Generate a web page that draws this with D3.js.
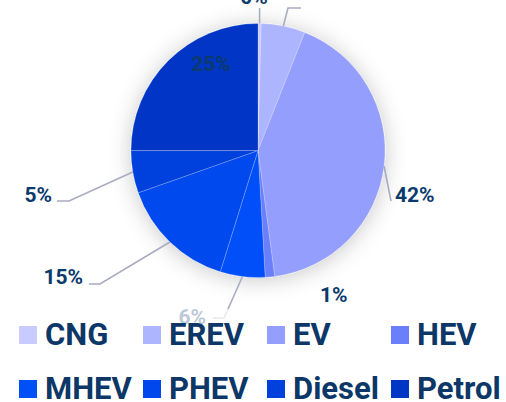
<!DOCTYPE html>
<html>
<head>
<meta charset="utf-8">
<script src="https://cdn.jsdelivr.net/npm/d3@7"></script>
<style>
  html, body { margin: 0; padding: 0; background: #fff; }
  svg { display: block; font-family: Roboto, "Noto Sans", sans-serif; }
</style>
</head>
<body>
<div class="visualGraph"></div>
<script>
// chart data
const categories = ["CNG", "EREV", "EV", "HEV", "MHEV", "PHEV", "Diesel", "Petrol"];
const shares = [0.4, 5.6, 41.9, 1.2, 5.7, 14.8, 5.4, 25.0];
const shareLabels = ["0%", "6%", "42%", "1%", "6%", "15%", "5%", "25%"];
const colors = ["#c7cbfe", "#adb5fe", "#949efd", "#6b7ffc", "#0050f8", "#0048ee", "#0040dc", "#0036c6"];

// label layout: leader elbow / end and text position (null = not shown)
const labelLayout = [
    { line: [[259.6, 8]], text: [254, 4], anchor: "middle" },
    { line: [[288, 8], [301, 8]], text: null },
    { line: [[391, 201]], text: [395, 202], anchor: "start" },
    { line: null, text: [320, 302], anchor: "start" },
    { line: [[224, 318], [213, 318]], text: [206, 324], anchor: "end" },
    { line: [[100, 284], [89, 284]], text: [83, 284], anchor: "end" },
    { line: [[69, 201], [57, 201]], text: [52, 202], anchor: "end" },
    { line: null, text: [211, 71], anchor: "middle" }
];

const width = 506;
const height = 402;
const cx = 258, cy = 150.5, radius = 127;

const svg = d3.select(".visualGraph")
    .append("svg")
    .attr("width", width)
    .attr("height", height)
    .attr("viewBox", [0, 0, width, height]);

// soft shadow around the pie
const filter = svg.append("defs").append("filter")
    .attr("id", "pieShadow")
    .attr("x", "-40%").attr("y", "-40%")
    .attr("width", "180%").attr("height", "180%");
filter.append("feDropShadow")
    .attr("dx", 0).attr("dy", 2)
    .attr("stdDeviation", 11)
    .attr("flood-color", "#000")
    .attr("flood-opacity", 0.22);

const pie = d3.pie().sort(null).value(d => d);
const arcs = pie(shares);
const arc = d3.arc().innerRadius(0).outerRadius(radius);
const edgeArc = d3.arc().innerRadius(radius).outerRadius(radius);

const g = svg.append("g").attr("transform", `translate(${cx},${cy})`);

g.append("g")
    .attr("filter", "url(#pieShadow)")
    .selectAll("path")
    .data(arcs)
    .join("path")
    .attr("d", arc)
    .attr("fill", (d, i) => colors[i])
    .attr("stroke", "rgba(255,255,255,0.35)")
    .attr("stroke-width", 0.6);

// leader lines
const lineGen = d3.line();
svg.append("g")
    .selectAll("path")
    .data(arcs.filter((d, i) => labelLayout[i].line))
    .join("path")
    .attr("d", d => {
        const [ex, ey] = edgeArc.centroid(d);
        return lineGen([[cx + ex, cy + ey], ...labelLayout[d.index].line]);
    })
    .attr("fill", "none")
    .attr("stroke", "#a9abc2")
    .attr("stroke-width", 1.6);

// percentage labels
svg.append("g")
    .selectAll("text")
    .data(arcs.filter((d, i) => labelLayout[i].text))
    .join("text")
    .attr("x", d => labelLayout[d.index].text[0])
    .attr("y", d => labelLayout[d.index].text[1])
    .attr("text-anchor", d => labelLayout[d.index].anchor)
    .attr("font-size", 21)
    .attr("font-weight", 700)
    .attr("fill", "#0b3a6c")
    .text(d => shareLabels[d.index]);

// legend (semi-opaque white panel over the chart)
svg.append("rect")
    .attr("x", 0).attr("y", 309)
    .attr("width", width).attr("height", height - 309)
    .attr("fill", "#fff")
    .attr("opacity", 0.72);

const legend = svg.append("g")
    .selectAll("g")
    .data(categories)
    .join("g")
    .attr("transform", (d, i) => `translate(${19 + (i % 4) * 124},${326 + Math.floor(i / 4) * 54})`);

legend.append("rect")
    .attr("width", 18)
    .attr("height", 18)
    .attr("fill", (d, i) => colors[i]);

legend.append("text")
    .attr("x", 26)
    .attr("y", 19)
    .attr("font-size", 31)
    .attr("font-weight", 700)
    .attr("fill", "#0c3767")
    .text(d => d);
</script>
</body>
</html>
